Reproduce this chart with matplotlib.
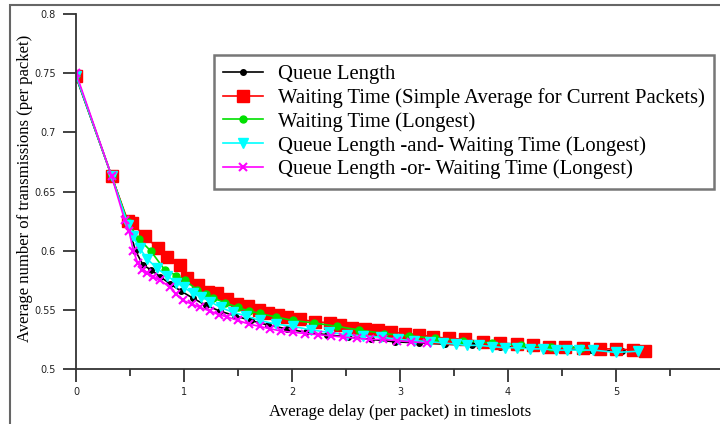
import matplotlib
matplotlib.use("Agg")
import matplotlib.pyplot as plt
from matplotlib.patches import Rectangle
from matplotlib.ticker import MultipleLocator

# --- data ---
labels = [
    "Queue Length",
    "Waiting Time (Simple Average for Current Packets)",
    "Waiting Time (Longest)",
    "Queue Length -and- Waiting Time (Longest)",
    "Queue Length -or- Waiting Time (Longest)",
]

ql_x = [0, 0.33, 0.48, 0.55, 0.62, 0.69, 0.78, 0.87, 0.97, 1.08, 1.2, 1.33, 1.47, 1.62,
        1.78, 1.95, 2.13, 2.32, 2.52, 2.73, 2.95, 3.18, 3.42, 3.67, 3.93, 4.2, 4.48, 4.77, 5.06]
ql_y = [0.747, 0.663, 0.623, 0.600, 0.588, 0.584, 0.578, 0.572, 0.566, 0.560, 0.554, 0.549,
        0.545, 0.541, 0.537, 0.534, 0.531, 0.529, 0.527, 0.525, 0.523, 0.522, 0.521, 0.520,
        0.519, 0.518, 0.517, 0.516, 0.515]

wt_avg_x = [0, 0.33, 0.48, 0.52, 0.64, 0.76, 0.84, 0.96, 1.03, 1.13, 1.22, 1.31, 1.40, 1.49,
            1.59, 1.69, 1.78, 1.87, 1.95, 2.07, 2.21, 2.35, 2.44, 2.56, 2.68, 2.80, 2.92, 3.05,
            3.18, 3.31, 3.45, 3.60, 3.77, 3.93, 4.08, 4.23, 4.38, 4.53, 4.69, 4.85, 5.00, 5.16, 5.27]
wt_avg_y = [0.748, 0.663, 0.625, 0.623, 0.612, 0.602, 0.595, 0.588, 0.577, 0.571, 0.565, 0.564,
            0.559, 0.555, 0.553, 0.550, 0.547, 0.546, 0.544, 0.542, 0.540, 0.539, 0.537, 0.535,
            0.534, 0.533, 0.531, 0.530, 0.529, 0.527, 0.526, 0.525, 0.523, 0.522, 0.521, 0.520,
            0.519, 0.519, 0.518, 0.517, 0.517, 0.516, 0.515]

wt_long_x = [0, 0.33, 0.48, 0.58, 0.69, 0.82, 0.93, 1.01, 1.12, 1.20, 1.27, 1.38, 1.50, 1.60,
             1.70, 1.85, 2.01, 2.20, 2.42, 2.62, 2.85, 3.08, 3.32, 3.58, 3.85, 4.12, 4.40, 4.68]
wt_long_y = [0.748, 0.663, 0.624, 0.610, 0.600, 0.584, 0.579, 0.575, 0.567, 0.563, 0.560, 0.556,
             0.552, 0.549, 0.547, 0.544, 0.541, 0.539, 0.536, 0.533, 0.530, 0.528, 0.526, 0.524,
             0.522, 0.520, 0.519, 0.518]

and_x = [0, 0.33, 0.48, 0.53, 0.59, 0.66, 0.75, 0.84, 0.93, 1.00, 1.08, 1.16, 1.24, 1.34, 1.45,
         1.57, 1.70, 1.85, 2.01, 2.18, 2.34, 2.51, 2.66, 2.82, 2.98, 3.13, 3.28, 3.40, 3.52, 3.62,
         3.73, 3.85, 3.97, 4.08, 4.20, 4.32, 4.44, 4.55, 4.66, 4.79, 5.00, 5.20]
and_y = [0.748, 0.663, 0.622, 0.612, 0.602, 0.593, 0.585, 0.579, 0.573, 0.569, 0.564, 0.561,
         0.557, 0.552, 0.548, 0.545, 0.541, 0.538, 0.536, 0.533, 0.531, 0.529, 0.528, 0.527,
         0.525, 0.524, 0.523, 0.522, 0.521, 0.520, 0.520, 0.519, 0.518, 0.518, 0.517, 0.517,
         0.516, 0.516, 0.516, 0.516, 0.514, 0.515]

or_x = [0, 0.33, 0.45, 0.49, 0.53, 0.57, 0.61, 0.66, 0.71, 0.78, 0.87, 0.93, 0.99, 1.07, 1.15,
        1.24, 1.32, 1.40, 1.50, 1.60, 1.70, 1.80, 1.90, 2.01, 2.12, 2.24, 2.36, 2.47, 2.60, 2.72,
        2.84, 2.97, 3.10, 3.25]
or_y = [0.750, 0.663, 0.626, 0.617, 0.600, 0.590, 0.584, 0.581, 0.578, 0.575, 0.569, 0.563,
        0.558, 0.555, 0.552, 0.549, 0.546, 0.544, 0.541, 0.538, 0.536, 0.534, 0.532, 0.531,
        0.530, 0.529, 0.528, 0.527, 0.526, 0.525, 0.525, 0.524, 0.523, 0.522]

x_ticks = [0, 1, 2, 3, 4, 5]
y_ticks = [0.5, 0.55, 0.6, 0.65, 0.7, 0.75, 0.8]

serif = ["Liberation Serif", "DejaVu Serif"]

fig = plt.figure(figsize=(7.2, 4.24), dpi=100)
ax = fig.add_axes([76 / 720, 1 - 369 / 424, 644 / 720, (369 - 14) / 424])

ax.plot(ql_x, ql_y, color="black", lw=1.2, marker="o", ms=4, label=labels[0])
ax.plot(wt_avg_x, wt_avg_y, color="#ff0000", lw=1.2, marker="s", ms=8, label=labels[1])
ax.plot(wt_long_x, wt_long_y, color="#00e000", lw=1.2, marker="o", ms=5, label=labels[2])
ax.plot(and_x, and_y, color="#00ffff", lw=1.2, marker="v", ms=7, label=labels[3])
ax.plot(or_x, or_y, color="#ff00ff", lw=1.2, marker="x", ms=6, mew=1.5, label=labels[4])

ax.set_xlim(0, 644 / 108)
ax.set_ylim(0.5, 0.8)
ax.set_xticks(x_ticks)
ax.set_yticks(y_ticks)
ax.set_yticklabels([f"{v:g}" for v in y_ticks])
ax.xaxis.set_minor_locator(MultipleLocator(0.5))
ax.tick_params(axis="both", which="major", direction="out", width=1.3,
               color="#333333", labelsize=7, labelcolor="#222222")
ax.tick_params(axis="y", which="major", length=9.5, pad=5)
ax.tick_params(axis="x", which="major", length=9, pad=4)
ax.tick_params(axis="x", which="minor", direction="out", length=5, width=1.3, color="#333333")

for s in ["top", "right"]:
    ax.spines[s].set_visible(False)
for s in ["left", "bottom"]:
    ax.spines[s].set_color("#333333")
    ax.spines[s].set_linewidth(1.3)

ax.set_xlabel("Average delay (per packet) in timeslots", family=serif, fontsize=12.1)
ax.xaxis.set_label_coords((400 - 76) / 644, -(404 - 369) / 355)
ax.set_ylabel("Average number of transmissions (per packet)", family=serif, fontsize=12)
ax.yaxis.set_label_coords(-(76 - 33) / 644, (369 - 188) / 355)

leg = ax.legend(loc="upper left", bbox_to_anchor=((214 - 76) / 644, (369 - 55) / 355),
                borderaxespad=0, fancybox=False, prop={"family": serif, "size": 14.9},
                labelspacing=0.2, handlelength=1.9, handletextpad=0.75, borderpad=0.45)
leg.get_frame().set_edgecolor("#555555")
leg.get_frame().set_linewidth(1.8)

# outer frame of the original figure
fig.add_artist(Rectangle((10 / 720, -0.1), 1.2, 1 - 5 / 424 + 0.1, transform=fig.transFigure,
                         fill=False, edgecolor="#666666", lw=1.5))

fig.savefig("out.png", dpi=100)
